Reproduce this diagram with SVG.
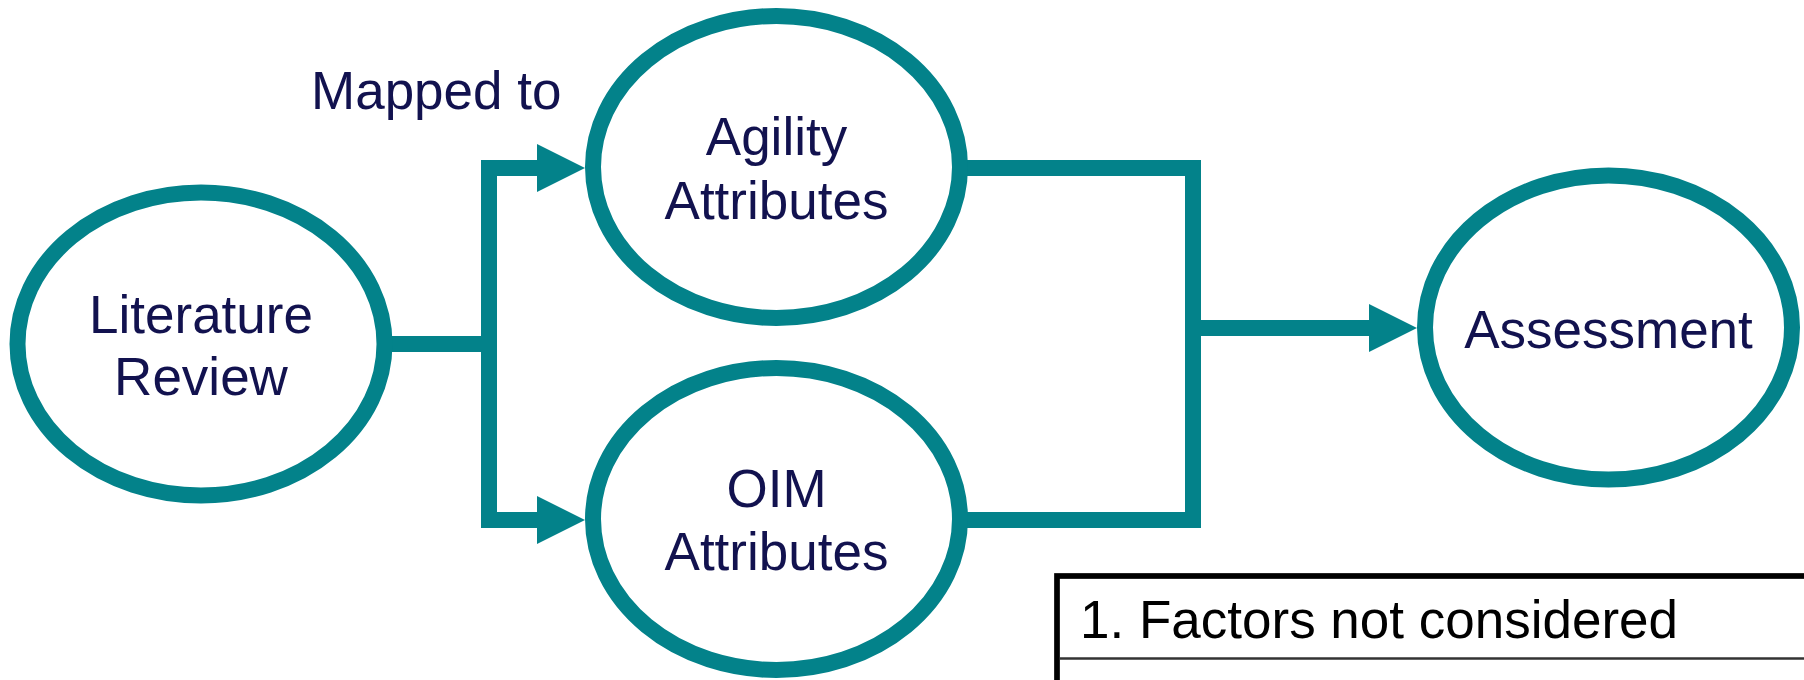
<svg xmlns="http://www.w3.org/2000/svg" width="1804" height="680" viewBox="0 0 1804 680">
  <style>
    .node { fill: #ffffff; stroke: #03828a; stroke-width: 16; }
    .lbl { font-family: "Liberation Sans", Arial, sans-serif; font-size: 53px; fill: #12124f; text-anchor: middle; }
    .wire { fill: none; stroke: #03828a; stroke-width: 16; stroke-linejoin: miter; stroke-linecap: butt; }
    .head { fill: #03828a; }
    .note { font-family: "Liberation Sans", Arial, sans-serif; font-size: 53px; fill: #000000; }
  </style>
  <rect width="1804" height="680" fill="#ffffff"/>

  <!-- connectors -->
  <g id="connectors">
    <path class="wire" d="M392 344 H489"/>
    <path class="wire" d="M539 168 H489 V520 H539"/>
    <polygon class="head" points="537,144 585,168 537,192"/>
    <polygon class="head" points="537,496 585,520 537,544"/>
    <path class="wire" d="M960 168 H1193 V520 H960"/>
    <path class="wire" d="M1193 328 H1371"/>
    <polygon class="head" points="1369,304 1417,328 1369,352"/>
  </g>

  <g id="label-mapped">
    <text class="lbl" x="311" y="109" style="text-anchor:start">Mapped to</text>
  </g>

  <g id="literature-review">
    <ellipse class="node" cx="201" cy="344" rx="183.5" ry="151.5"/>
    <text class="lbl" x="201" y="333">Literature</text>
    <text class="lbl" x="201" y="395">Review</text>
  </g>

  <g id="agility-attributes">
    <ellipse class="node" cx="776.5" cy="167" rx="183.5" ry="151"/>
    <text class="lbl" x="776.5" y="155">Agility</text>
    <text class="lbl" x="776.5" y="219">Attributes</text>
  </g>

  <g id="oim-attributes">
    <ellipse class="node" cx="776.5" cy="519" rx="183.5" ry="151"/>
    <text class="lbl" x="776.5" y="507">OIM</text>
    <text class="lbl" x="776.5" y="570">Attributes</text>
  </g>

  <g id="assessment">
    <ellipse class="node" cx="1608.5" cy="327.5" rx="183.5" ry="152"/>
    <text class="lbl" x="1608.5" y="348">Assessment</text>
  </g>

  <g id="factors-table">
    <rect x="1057" y="576" width="800" height="200" fill="#ffffff" stroke="#000000" stroke-width="5.7"/>
    <line x1="1060" y1="658.6" x2="1804" y2="658.6" stroke="#333333" stroke-width="2.5"/>
    <text class="note" x="1080" y="637.5">1. Factors not considered</text>
  </g>
</svg>
